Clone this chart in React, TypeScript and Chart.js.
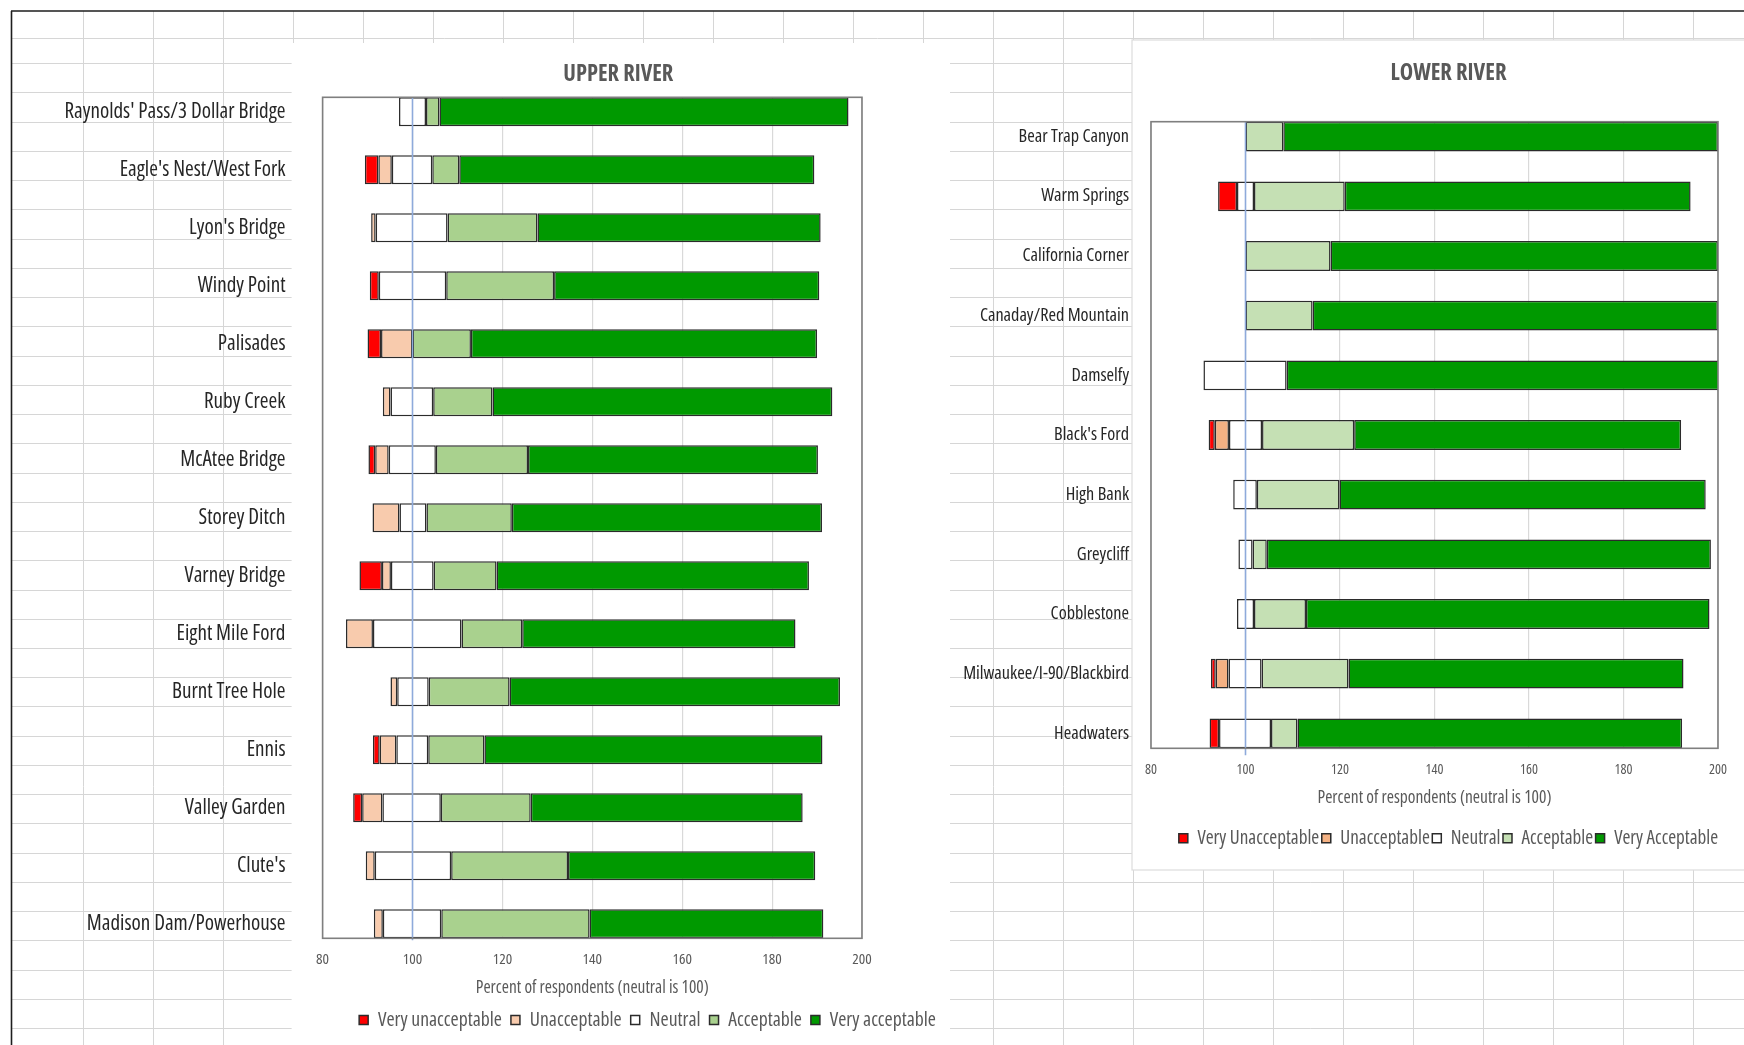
import React, { useEffect, useRef } from "react";
import { Chart, registerables } from "chart.js";

Chart.register(...registerables);

// ---------- Upper river ----------
const upperSites = [
  "Raynolds' Pass/3 Dollar Bridge",
  "Eagle's Nest/West Fork",
  "Lyon's Bridge",
  "Windy Point",
  "Palisades",
  "Ruby Creek",
  "McAtee Bridge",
  "Storey Ditch",
  "Varney Bridge",
  "Eight Mile Ford",
  "Burnt Tree Hole",
  "Ennis",
  "Valley Garden",
  "Clute's",
  "Madison Dam/Powerhouse",
];
// left end of each bar (hidden spacer, neutral roughly centred on 100)
const upperStart = [97, 89.4, 90.8, 90.5, 90, 93.4, 90.2, 91.1, 88.2, 85.2, 95.1, 91.2, 86.8, 89.6, 91.4];
const upperVeryUnacceptable = [0, 3, 0, 2, 3, 0, 1.5, 0, 5, 0, 0, 1.5, 2, 0, 0];
const upperUnacceptable = [0, 3, 1, 0, 7, 1.7, 3, 6, 2, 6, 1.5, 3.7, 4.5, 2, 2];
const upperNeutral = [6, 9, 16, 15, 0, 9.5, 10.5, 6, 9.5, 19.7, 7, 7.1, 13, 17, 13];
const upperAcceptable = [3, 6, 20, 24, 13, 13.2, 20.5, 19, 14, 13.5, 18, 12.5, 20, 26, 33];
const upperVeryAcceptable = [91, 79, 63, 59, 77, 75.6, 64.5, 69, 69.5, 60.8, 73.5, 75.2, 60.5, 55, 52];
const upperLevels = ["Very unacceptable", "Unacceptable", "Neutral", "Acceptable", "Very acceptable"];

// ---------- Lower river ----------
const lowerSites = [
  "Bear Trap Canyon",
  "Warm Springs",
  "California Corner",
  "Canaday/Red Mountain",
  "Damselfy",
  "Black's Ford",
  "High Bank",
  "Greycliff",
  "Cobblestone",
  "Milwaukee/I-90/Blackbird",
  "Headwaters",
];
const lowerStart = [100, 94.2, 100, 100, 91.1, 92.2, 97.4, 98.5, 98.2, 92.7, 92.4];
const lowerVeryUnacceptable = [0, 4, 0, 0, 0, 1.3, 0, 0, 0, 1, 2];
const lowerUnacceptable = [0, 0, 0, 0, 0, 3, 0, 0, 0, 2.7, 0];
const lowerNeutral = [0, 3.6, 0, 0, 17.6, 7, 5, 3, 3.6, 7, 11];
const lowerAcceptable = [8, 19.2, 18, 14.2, 0, 19.5, 17.5, 3, 11, 18.4, 5.6];
const lowerVeryAcceptable = [92, 73.2, 82, 85.8, 92, 69.2, 77.5, 94, 85.4, 70.9, 81.4];
const lowerLevels = ["Very Unacceptable", "Unacceptable", "Neutral", "Acceptable", "Very Acceptable"];

const xTicksMin = 80;
const xTicksMax = 200;
const xTickStep = 20;
const neutralMark = 100;
const xAxisTitle = "Percent of respondents (neutral is 100)";

// ---------- styling ----------
const PAGE_W = 1744;
const PAGE_H = 1045;
const TEXT_GREY = "#595959";
const LABEL_DARK = "#262626";
const BAR_EDGE = "#2b2b2b";
const upperColors = ["#ff0000", "#f8cbad", "#ffffff", "#a9d18e", "#009900"];
const lowerColors = ["#ff0000", "#f4b183", "#ffffff", "#c5e0b4", "#009900"];

type Face = { family: string; stretch: string };
let measureCtx: CanvasRenderingContext2D | null = null;
function textWidth(font: string, text: string) {
  if (!measureCtx) measureCtx = document.createElement("canvas").getContext("2d");
  const ctx = measureCtx as CanvasRenderingContext2D;
  ctx.font = font;
  return ctx.measureText(text).width;
}

// Pick a narrow sans face from what is installed.
let chosenFace: Face | null = null;
function narrowFace(): Face {
  if (chosenFace) return chosenFace;
  const probe = "Percent of respondents (neutral is 100) Wmli";
  const mono = textWidth("100px monospace", probe);
  const installed = (fam: string) => Math.abs(textWidth(`100px ${fam}, monospace`, probe) - mono) > 0.5;
  if (installed("'Liberation Sans Narrow'")) {
    chosenFace = { family: "'Liberation Sans Narrow', sans-serif", stretch: "" };
    return chosenFace;
  }
  for (const fam of ["'Open Sans'", "Roboto", "'Noto Sans'"]) {
    if (!installed(fam)) continue;
    const normal = textWidth(`normal normal 100px ${fam}`, probe);
    const cond = textWidth(`normal condensed 100px ${fam}`, probe);
    if (cond < normal * 0.9) {
      chosenFace = { family: `${fam}, sans-serif`, stretch: "condensed" };
      return chosenFace;
    }
  }
  chosenFace = { family: "'DejaVu Sans Condensed', 'DejaVu Sans', sans-serif", stretch: "" };
  return chosenFace;
}

function weightOf(face: Face, bold: boolean) {
  const parts = [bold ? "bold" : "", face.stretch].filter(Boolean);
  return parts.length ? parts.join(" ") : undefined;
}
function fontString(face: Face, bold: boolean, size: number) {
  const w = weightOf(face, bold);
  return `normal ${w ? w + " " : ""}${size}px ${face.family}`;
}
// font size at which `text` spans `width` pixels
function sizeForWidth(face: Face, bold: boolean, text: string, width: number) {
  return (100 * width) / textWidth(fontString(face, bold, 100), text);
}

type Sample = { text: string; width: number };
type Spec = {
  title: string;
  sites: string[];
  start: number[];
  shares: number[][];
  levels: string[];
  colors: string[];
  canvas: { left: number; top: number; w: number; h: number };
  panelLeft: number;
  frame: { left: number; right: number; top: number; bottom: number };
  labelRight: number;
  titleY: number;
  tickY: number;
  axisTitleY: number;
  legendY: number;
  legendAlign: "start" | "center" | "end";
  legendBox: number;
  legendPad: number;
  samples: { category: Sample; title: Sample; tick: Sample; axisTitle: Sample; legend: Sample };
  yMin: number;
  yMax: number;
  guideOverhang: number;
};

const upperSpec: Spec = {
  title: "UPPER RIVER",
  sites: upperSites,
  start: upperStart,
  shares: [upperVeryUnacceptable, upperUnacceptable, upperNeutral, upperAcceptable, upperVeryAcceptable],
  levels: upperLevels,
  colors: upperColors,
  canvas: { left: 0, top: 43, w: 945, h: 1002 },
  panelLeft: 291.6,
  frame: { left: 322.6, right: 862, top: 97.3, bottom: 938.3 },
  labelRight: 285.5,
  titleY: 74.5,
  tickY: 960,
  axisTitleY: 988,
  legendY: 1020,
  legendAlign: "end",
  legendBox: 9,
  legendPad: 9,
  samples: {
    category: { text: "Raynolds' Pass/3 Dollar Bridge", width: 221 },
    title: { text: "UPPER RIVER", width: 110 },
    tick: { text: "200", width: 19.5 },
    axisTitle: { text: xAxisTitle, width: 233 },
    legend: { text: "Very unacceptable", width: 124 },
  },
  yMin: -0.25,
  yMax: 14.25,
  guideOverhang: 2,
};

const lowerSpec: Spec = {
  title: "LOWER RIVER",
  sites: lowerSites,
  start: lowerStart,
  shares: [lowerVeryUnacceptable, lowerUnacceptable, lowerNeutral, lowerAcceptable, lowerVeryAcceptable],
  levels: lowerLevels,
  colors: lowerColors,
  canvas: { left: 940, top: 40, w: 825, h: 830 },
  panelLeft: 1132,
  frame: { left: 1151, right: 1718, top: 121.7, bottom: 748.3 },
  labelRight: 1129,
  titleY: 73.3,
  tickY: 770,
  axisTitleY: 798.3,
  legendY: 838.3,
  legendAlign: "center",
  legendBox: 9,
  legendPad: 2.5,
  samples: {
    category: { text: "Milwaukee/I-90/Blackbird", width: 166 },
    title: { text: "LOWER RIVER", width: 116 },
    tick: { text: "200", width: 18 },
    axisTitle: { text: xAxisTitle, width: 234 },
    legend: { text: "Very Unacceptable", width: 122 },
  },
  yMin: -0.25,
  yMax: 10.25,
  guideOverhang: 7,
};

// Floating segments: each response level starts where the previous one ended.
function buildDatasets(spec: Spec) {
  const left = spec.start.slice();
  return spec.shares.map((series, k) => {
    const data: { x: [number, number]; y: number }[] = [];
    series.forEach((v, i) => {
      if (v > 0) data.push({ x: [left[i], left[i] + v], y: i });
      left[i] += v;
    });
    return {
      label: spec.levels[k],
      data,
      backgroundColor: spec.colors[k],
      borderColor: BAR_EDGE,
      borderWidth: 1.5,
      borderSkipped: false,
      grouped: false,
      categoryPercentage: 1,
      barPercentage: 0.5,
      clip: 0,
      xAxisID: "x",
      yAxisID: "y",
    };
  });
}

// Plot frame plus the vertical neutral guide at 100.
const frameAndGuide = {
  id: "frameAndGuide",
  afterDatasetsDraw(chart: any, _args: any, opts: any) {
    const { ctx, chartArea: a } = chart;
    const gx = chart.scales.x.getPixelForValue(opts.neutralAt);
    ctx.save();
    ctx.strokeStyle = "#8eaadb";
    ctx.lineWidth = 1.6;
    ctx.beginPath();
    ctx.moveTo(gx, a.top);
    ctx.lineTo(gx, a.bottom + opts.overhang);
    ctx.stroke();
    ctx.strokeStyle = "#7f7f7f";
    ctx.lineWidth = 1.6;
    ctx.strokeRect(a.left, a.top, a.right - a.left, a.bottom - a.top);
    ctx.restore();
  },
};

// Keeps a right-aligned legend row on one line despite float rounding.
const legendRowSlack = {
  id: "legendRowSlack",
  afterLayout(chart: any) {
    const lg = chart.legend;
    if (lg && Array.isArray(lg.lineWidths)) lg.lineWidths = lg.lineWidths.map((w: number) => w + 0.05);
  },
};

function buildConfig(spec: Spec): any {
  const face = narrowFace();
  const s = spec.samples;
  const catSize = sizeForWidth(face, false, s.category.text, s.category.width);
  const titleSize = sizeForWidth(face, true, s.title.text, s.title.width);
  const tickSize = sizeForWidth(face, false, s.tick.text, s.tick.width);
  const axisSize = sizeForWidth(face, false, s.axisTitle.text, s.axisTitle.width);
  const legendSize = sizeForWidth(face, false, s.legend.text, s.legend.width);
  const font = (size: number, bold = false, lineHeight = 1.2) => ({
    family: face.family,
    size,
    weight: weightOf(face, bold),
    lineHeight,
  });

  const c = spec.canvas;
  const f = spec.frame;
  const padLeft = spec.panelLeft - c.left;
  const yAxisWidth = f.left - spec.panelLeft;
  const rightGutter = c.left + c.w - f.right;
  const areaTop = f.top - c.top;
  const areaBottom = f.bottom - c.top;

  const titleLH = titleSize * 1.2;
  const titlePadTop = spec.titleY - c.top - titleLH / 2;
  const titlePadBottom = areaTop - titlePadTop - titleLH;

  const tickPad = spec.tickY - f.bottom - (tickSize * 1.2) / 2;
  const xAxisHeight = spec.legendY - f.bottom - spec.legendPad - legendSize / 2;
  const xTitlePadBottom = xAxisHeight - (spec.axisTitleY - f.bottom) - axisSize / 2;
  const legendHeight = legendSize + spec.legendPad + 10;
  const padBottom = Math.max(0, c.h - areaBottom - xAxisHeight - legendHeight);

  // category labels are right-aligned just left of the plot frame
  const catFont = fontString(face, false, catSize);
  const widest = Math.max(...spec.sites.map((t) => textWidth(catFont, t)));
  const labelGap = f.left - spec.labelRight;

  return {
    type: "bar",
    data: { datasets: buildDatasets(spec) },
    plugins: [frameAndGuide, legendRowSlack],
    options: {
      animation: false,
      responsive: false,
      indexAxis: "y",
      events: [],
      layout: { padding: { left: padLeft, right: 0, top: 0, bottom: padBottom } },
      plugins: {
        frameAndGuide: { neutralAt: neutralMark, overhang: spec.guideOverhang },
        title: {
          display: true,
          text: spec.title,
          color: TEXT_GREY,
          font: font(titleSize, true, 1.2),
          padding: { top: titlePadTop, bottom: titlePadBottom },
        },
        legend: {
          display: true,
          position: "bottom",
          align: spec.legendAlign,
          labels: {
            color: TEXT_GREY,
            font: font(legendSize),
            boxWidth: spec.legendBox,
            boxHeight: spec.legendBox,
            padding: spec.legendPad,
          },
        },
        tooltip: { enabled: false },
      },
      scales: {
        x: {
          type: "linear",
          position: "bottom",
          min: xTicksMin,
          max: xTicksMax,
          offset: false,
          ticks: {
            stepSize: xTickStep,
            color: TEXT_GREY,
            font: font(tickSize),
            padding: tickPad,
          },
          grid: { color: "#d9d9d9", lineWidth: 1.2, drawTicks: false, offset: false },
          border: { display: false },
          title: {
            display: true,
            text: xAxisTitle,
            color: TEXT_GREY,
            font: font(axisSize, false, 1),
            padding: { top: 0, bottom: xTitlePadBottom },
          },
          afterFit: (sc: any) => {
            sc.height = xAxisHeight;
          },
        },
        y: {
          type: "linear",
          position: "left",
          reverse: true,
          offset: false,
          min: spec.yMin,
          max: spec.yMax,
          afterBuildTicks: (sc: any) => {
            sc.ticks = spec.sites.map((_, i) => ({ value: i }));
          },
          ticks: {
            autoSkip: false,
            mirror: true,
            crossAlign: "far",
            padding: -(labelGap + widest),
            color: LABEL_DARK,
            font: font(catSize),
            callback: (v: number) => spec.sites[v] ?? "",
          },
          grid: { display: false, drawTicks: false, offset: false },
          border: { display: false },
          afterFit: (sc: any) => {
            sc.width = yAxisWidth;
          },
        },
        gutter: {
          type: "linear",
          position: "right",
          ticks: { display: false },
          grid: { display: false, drawTicks: false },
          border: { display: false },
          afterFit: (sc: any) => {
            sc.width = rightGutter;
          },
        },
      },
    },
  };
}

function RiverChart({ spec }: { spec: Spec }) {
  const ref = useRef<HTMLCanvasElement>(null);
  useEffect(() => {
    const chart = new Chart(ref.current as HTMLCanvasElement, buildConfig(spec));
    return () => chart.destroy();
  }, [spec]);
  const c = spec.canvas;
  return (
    <canvas
      ref={ref}
      width={c.w}
      height={c.h}
      style={{ position: "absolute", left: c.left, top: c.top, width: c.w, height: c.h }}
    />
  );
}

// Spreadsheet backdrop: cell grid, sheet border and the two white chart panels.
const COL_FIRST = 82.5;
const COL_STEP = 70;
const ROW_FIRST = 38;
const ROW_SECOND = 63.2;
const ROW_STEP = 29.24;
const panels = [
  { x: 291.6, y: 43, w: 950 - 291.6, h: PAGE_H - 43, edge: false },
  { x: 1132, y: 40, w: PAGE_W - 1132, h: 870 - 40, edge: true },
];

function SheetBackdrop() {
  const ref = useRef<HTMLCanvasElement>(null);
  useEffect(() => {
    const ctx = (ref.current as HTMLCanvasElement).getContext("2d") as CanvasRenderingContext2D;
    ctx.fillStyle = "#ffffff";
    ctx.fillRect(0, 0, PAGE_W, PAGE_H);
    ctx.strokeStyle = "#d6d6d6";
    ctx.lineWidth = 1;
    ctx.beginPath();
    for (let x = COL_FIRST; x < PAGE_W; x += COL_STEP) {
      const px = Math.round(x) + 0.5;
      ctx.moveTo(px, 11);
      ctx.lineTo(px, PAGE_H);
    }
    const rows = [ROW_FIRST];
    for (let y = ROW_SECOND; y < PAGE_H; y += ROW_STEP) rows.push(y);
    rows.forEach((y) => {
      const py = Math.round(y) + 0.5;
      ctx.moveTo(11, py);
      ctx.lineTo(PAGE_W, py);
    });
    ctx.stroke();

    panels.forEach((p) => {
      ctx.fillStyle = "#ffffff";
      ctx.fillRect(p.x, p.y, p.w, p.h);
      if (p.edge) {
        ctx.strokeStyle = "#dcdcdc";
        ctx.lineWidth = 1.2;
        ctx.strokeRect(p.x, p.y, p.w + 20, p.h);
      }
    });

    ctx.strokeStyle = "#1e1e1e";
    ctx.lineWidth = 1.6;
    ctx.beginPath();
    ctx.moveTo(11, 11);
    ctx.lineTo(PAGE_W, 11);
    ctx.moveTo(11.5, 11);
    ctx.lineTo(11.5, PAGE_H);
    ctx.stroke();
  }, []);
  return (
    <canvas
      ref={ref}
      width={PAGE_W}
      height={PAGE_H}
      style={{ position: "absolute", left: 0, top: 0, width: PAGE_W, height: PAGE_H }}
    />
  );
}

export default function App() {
  return (
    <div
      style={{
        position: "fixed",
        left: 0,
        top: 0,
        width: PAGE_W,
        height: PAGE_H,
        overflow: "hidden",
        background: "#ffffff",
      }}
    >
      <SheetBackdrop />
      <RiverChart spec={upperSpec} />
      <RiverChart spec={lowerSpec} />
    </div>
  );
}
